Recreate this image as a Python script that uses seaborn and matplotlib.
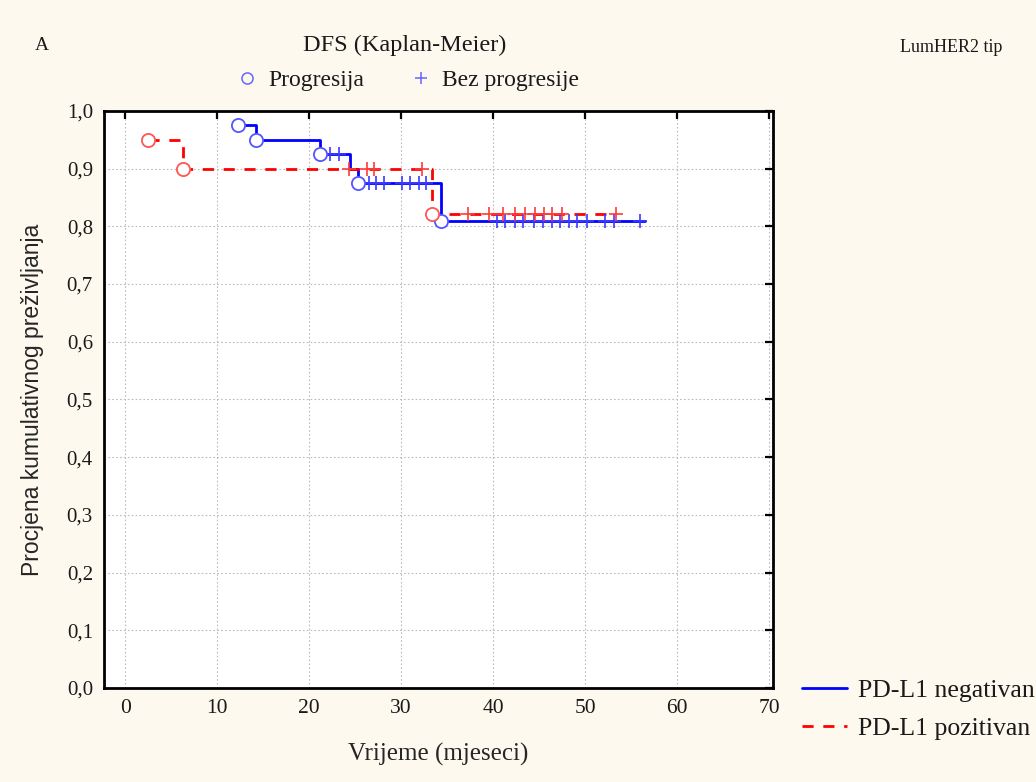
import pandas as pd
import matplotlib
matplotlib.use('Agg')
import matplotlib.pyplot as plt
from matplotlib.lines import Line2D
import seaborn as sns

# step curves (time in months, survival estimate)
neg_time = [12.3, 14.2, 21.2, 24.4, 25.3, 34.3, 56.5]
neg_surv = [0.975, 0.95, 0.925, 0.90, 0.875, 0.81, 0.81]
pos_time = [2.5, 6.3, 33.4, 53.4]
pos_surv = [0.95, 0.90, 0.822, 0.822]

# progression events (circles)
neg_event_t = [12.3, 14.2, 21.2, 25.3, 34.3]
neg_event_s = [0.975, 0.95, 0.925, 0.875, 0.81]
pos_event_t = [2.5, 6.3, 33.4]
pos_event_s = [0.95, 0.90, 0.822]

# censored (no progression, plus marks)
neg_cens_t = [22.3, 23.3, 26.5, 27.3, 28.1, 30.1, 31.0, 31.9, 32.7,
              40.4, 41.3, 42.4, 43.3, 44.4, 45.4, 46.4, 47.3, 48.2, 49.1, 50.2, 52.2, 53.1, 56.0]
neg_cens_s = [0.925, 0.925, 0.875, 0.875, 0.875, 0.875, 0.875, 0.875, 0.875,
              0.81, 0.81, 0.81, 0.81, 0.81, 0.81, 0.81, 0.81, 0.81, 0.81, 0.81, 0.81, 0.81, 0.81]
pos_cens_t = [24.3, 26.3, 27.0, 32.3, 37.3, 39.5, 41.1, 42.4, 43.5, 44.6, 45.5, 46.4, 47.5, 53.4]
pos_cens_s = [0.90, 0.90, 0.90, 0.90, 0.822, 0.822, 0.822, 0.822, 0.822, 0.822, 0.822, 0.822, 0.822, 0.822]

x_ticks = [0, 10, 20, 30, 40, 50, 60, 70]
y_ticks = [0.0, 0.1, 0.2, 0.3, 0.4, 0.5, 0.6, 0.7, 0.8, 0.9, 1.0]

sns.set_style('white')
plt.rcParams['font.family'] = ['Liberation Serif', 'DejaVu Serif']
plt.rcParams['text.color'] = '#1a1a1a'

bg = '#fef9ee'
fig = plt.figure(figsize=(10.36, 7.82), dpi=100, facecolor=bg)
ax = fig.add_axes([0.1004, 0.1202, 0.6455, 0.7380])
ax.set_facecolor('white')

blue = '#0000ff'
red = '#ff0000'

neg_df = pd.DataFrame({'t': neg_time, 's': neg_surv})
pos_df = pd.DataFrame({'t': pos_time, 's': pos_surv})
sns.lineplot(data=neg_df, x='t', y='s', ax=ax, color=blue, lw=2.0,
             drawstyle='steps-post', estimator=None, sort=False, zorder=3)
sns.lineplot(data=pos_df, x='t', y='s', ax=ax, color=red, lw=2.0,
             drawstyle='steps-post', estimator=None, sort=False, zorder=3,
             linestyle=(0, (4, 3.5)))

# censored marks
sns.scatterplot(x=neg_cens_t, y=neg_cens_s, ax=ax, marker='+', s=90,
                color='#3a3aff', linewidth=1.2, zorder=4)
sns.scatterplot(x=pos_cens_t, y=pos_cens_s, ax=ax, marker='+', s=90,
                color='#ff3a3a', linewidth=1.2, zorder=4)
# events
sns.scatterplot(x=neg_event_t, y=neg_event_s, ax=ax, marker='o', s=90,
                facecolor='white', edgecolor='#5555ff', linewidth=1.3, zorder=5)
sns.scatterplot(x=pos_event_t, y=pos_event_s, ax=ax, marker='o', s=90,
                facecolor='white', edgecolor='#ff5555', linewidth=1.3, zorder=5)

ax.set_xlim(-2.3, 70.4)
ax.set_ylim(0, 1.0)
ax.set_xticks(x_ticks)
ax.set_yticks(y_ticks)
ax.set_xticklabels([str(v) for v in x_ticks], fontsize=15.5)
ax.set_yticklabels([f'{v:.1f}'.replace('.', ',') for v in y_ticks], fontsize=15)
ax.tick_params(direction='in', length=6, width=1.6, top=True, right=True,
               colors='black', labelcolor='#1a1a1a', pad=8)
ax.grid(True, color='#bbbbbb', linestyle=(0, (1.5, 2)), linewidth=0.8)
for sp in ax.spines.values():
    sp.set_visible(True)
    sp.set_color('black')
    sp.set_linewidth(2.0)

ax.set_xlabel('Vrijeme (mjeseci)', fontsize=18, labelpad=18)
ax.set_ylabel('Procjena kumulativnog preživljanja', fontsize=16.5,
              family=['Liberation Sans', 'DejaVu Sans'], labelpad=16)

fig.text(0.034, 0.942, 'A', fontsize=14, va='center')
fig.text(0.391, 0.942, 'DFS (Kaplan-Meier)', fontsize=17.5, ha='center', va='center')
fig.text(0.918, 0.939, 'LumHER2 tip', fontsize=13, ha='center', va='center')

top_handles = [
    Line2D([], [], ls='none', marker='o', mfc='none', mec='#6666ff', ms=8, mew=1.1),
    Line2D([], [], ls='none', marker='+', color='#6666ff', ms=9, mew=1.1),
]
fig.legend(top_handles, ['Progresija', 'Bez progresije'], loc='center',
           bbox_to_anchor=(0.393, 0.897), ncol=2, frameon=False, fontsize=17,
           handletextpad=0.4, columnspacing=1.9, handlelength=1.0)

bot_handles = [
    Line2D([], [], color=blue, lw=2.0),
    Line2D([], [], color=red, lw=2.0, linestyle=(0, (4, 3.5))),
]
fig.legend(bot_handles, ['PD-L1 negativan', 'PD-L1 pozitivan'], loc='upper left',
           bbox_to_anchor=(0.759, 0.152), frameon=False, fontsize=18.5,
           handlelength=1.75, handletextpad=0.45, labelspacing=0.6,
           borderaxespad=0.2)

fig.savefig('out.png', dpi=100, facecolor=bg)
